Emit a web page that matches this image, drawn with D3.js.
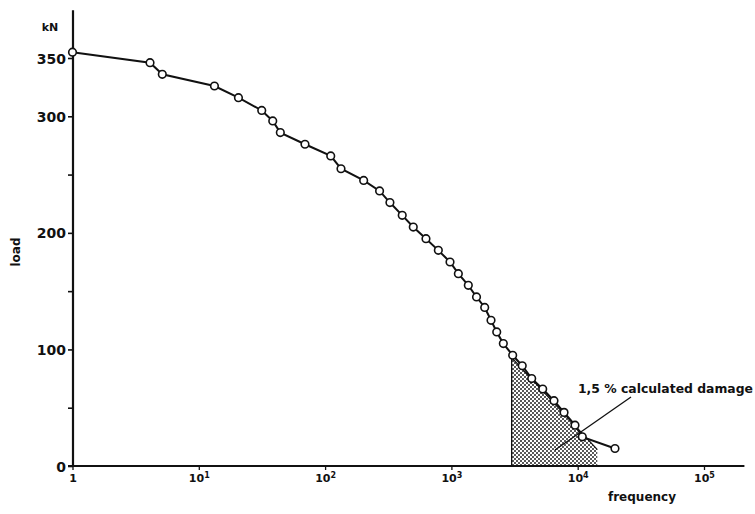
<!DOCTYPE html>
<html><head><meta charset="utf-8">
<script src="https://cdn.jsdelivr.net/npm/d3@7"></script>
<style>body{margin:0;background:#fff}</style>
</head><body><svg id="c" width="755" height="514"></svg>
<script>
// Data
const frequency = [1, 4.11, 5.14, 13.3, 20.6, 31.5, 38.5, 44.2, 69.3, 110.8, 133.6, 202, 270, 326, 408, 499, 629, 788, 975, 1135, 1361, 1581, 1835, 2059, 2285, 2577, 3056, 3637, 4323, 5284, 6490, 7795, 9520, 10870, 19730];
const load = [355, 346, 336, 326, 316, 305, 296, 286, 276, 266, 255, 245, 236, 226, 215, 205, 195, 185, 175, 165, 155, 145, 136, 125, 115, 105, 95, 86, 75, 66, 56, 46, 35, 25, 15];
const damageFreq = [3000, 3000, 14300, 14300];
const damageLoad = [0, 93, 14, 0];
const yTicks = [0, 50, 100, 150, 200, 250, 300, 350];
const yTickLabels = ["0", "", "100", "", "200", "", "300", "350"];
const xTicks = [1, 10, 100, 1000, 10000, 100000];
const xTickBase = ["1", "10", "10", "10", "10", "10"];
const xTickExp = ["", "1", "2", "3", "4", "5"];
const annotation = "1,5 % calculated damage";

const svg = d3.select("#c");
const FONT = "DejaVu Sans, sans-serif";

const x = d3.scaleLog().domain([1, 1e5]).range([72.5, 704]);
const y = d3.scaleLinear().domain([0, 350]).range([466, 58]);

// pattern
const defs = svg.append("defs");
const pat = defs.append("pattern").attr("id", "dots").attr("patternUnits", "userSpaceOnUse")
  .attr("width", 4).attr("height", 4);
pat.append("circle").attr("cx", 1).attr("cy", 1).attr("r", 0.95).attr("fill", "#111");
pat.append("circle").attr("cx", 3).attr("cy", 3).attr("r", 0.95).attr("fill", "#111");

// shaded damage area
const areaPts = damageFreq.map((f, i) => [x(f), y(damageLoad[i])]);
svg.append("path").attr("d", "M" + areaPts.map(p => p.join(",")).join("L") + "Z")
  .attr("fill", "url(#dots)").attr("stroke", "none");
svg.append("path").attr("d", "M" + areaPts.slice(0, 3).map(p => p.join(",")).join("L"))
  .attr("fill", "none").attr("stroke", "#111").attr("stroke-width", 1.3);

// axes
const yAxis = d3.axisLeft(y).tickValues(yTicks).tickSize(5).tickPadding(2)
  .tickFormat((d, i) => yTickLabels[i]);
const gy = svg.append("g").attr("transform", "translate(73,0)").call(yAxis);
gy.select(".domain").remove();
gy.selectAll(".tick line").attr("stroke", "#111").attr("stroke-width", 1.6);
gy.selectAll(".tick text").attr("font-family", FONT).attr("font-weight", "bold")
  .attr("font-size", 14).attr("fill", "#111").attr("dy", "0.36em");

const xAxis = d3.axisBottom(x).tickValues(xTicks).tickSize(4).tickFormat("");
const gx = svg.append("g").attr("transform", "translate(0,466)").call(xAxis);
gx.select(".domain").remove();
gx.selectAll(".tick line").attr("stroke", "#111").attr("stroke-width", 1.3);
gx.selectAll(".tick").each(function(d, i) {
  const t = d3.select(this).append("text").attr("y", 16).attr("text-anchor", "middle")
    .attr("font-family", FONT).attr("font-weight", "bold").attr("font-size", 11).attr("fill", "#111");
  t.append("tspan").text(xTickBase[i]);
  if (xTickExp[i]) t.append("tspan").attr("dy", -4).attr("font-size", 8).text(xTickExp[i]);
});

// axis lines
svg.append("line").attr("x1", 73).attr("x2", 73).attr("y1", y(0) + 1).attr("y2", y(391))
  .attr("stroke", "#111").attr("stroke-width", 2.2);
svg.append("line").attr("x1", 68).attr("x2", x(Math.pow(10, 5.32))).attr("y1", y(0)).attr("y2", y(0))
  .attr("stroke", "#111").attr("stroke-width", 2.2);

// curve
const line = d3.line().x(d => x(d[0])).y(d => y(d[1]));
const pts = frequency.map((f, i) => [f, load[i]]);
svg.append("path").datum(pts).attr("d", line).attr("fill", "none")
  .attr("stroke", "#111").attr("stroke-width", 2);
svg.append("g").selectAll("circle").data(pts).join("circle")
  .attr("cx", d => x(d[0])).attr("cy", d => y(d[1])).attr("r", 3.8)
  .attr("fill", "#fff").attr("stroke", "#111").attr("stroke-width", 1.6);

// labels
svg.append("text").attr("x", 50).attr("y", 31).attr("text-anchor", "middle")
  .attr("font-family", FONT).attr("font-weight", "bold").attr("font-size", 11).attr("fill", "#111").text("kN");
svg.append("text").attr("transform", "translate(20,252) rotate(-90)").attr("text-anchor", "middle")
  .attr("font-family", FONT).attr("font-weight", "bold").attr("font-size", 12).attr("fill", "#111").text("load");
svg.append("text").attr("x", 642).attr("y", 501).attr("text-anchor", "middle")
  .attr("font-family", FONT).attr("font-weight", "bold").attr("font-size", 12).attr("fill", "#111").text("frequency");

// annotation
svg.append("text").attr("x", 578).attr("y", 393).attr("font-family", FONT).attr("font-weight", "bold")
  .attr("font-size", 12.4).attr("fill", "#111").text(annotation);
svg.append("line").attr("x1", 631).attr("y1", 397).attr("x2", 555).attr("y2", 450)
  .attr("stroke", "#111").attr("stroke-width", 1.3);
</script></body></html>
